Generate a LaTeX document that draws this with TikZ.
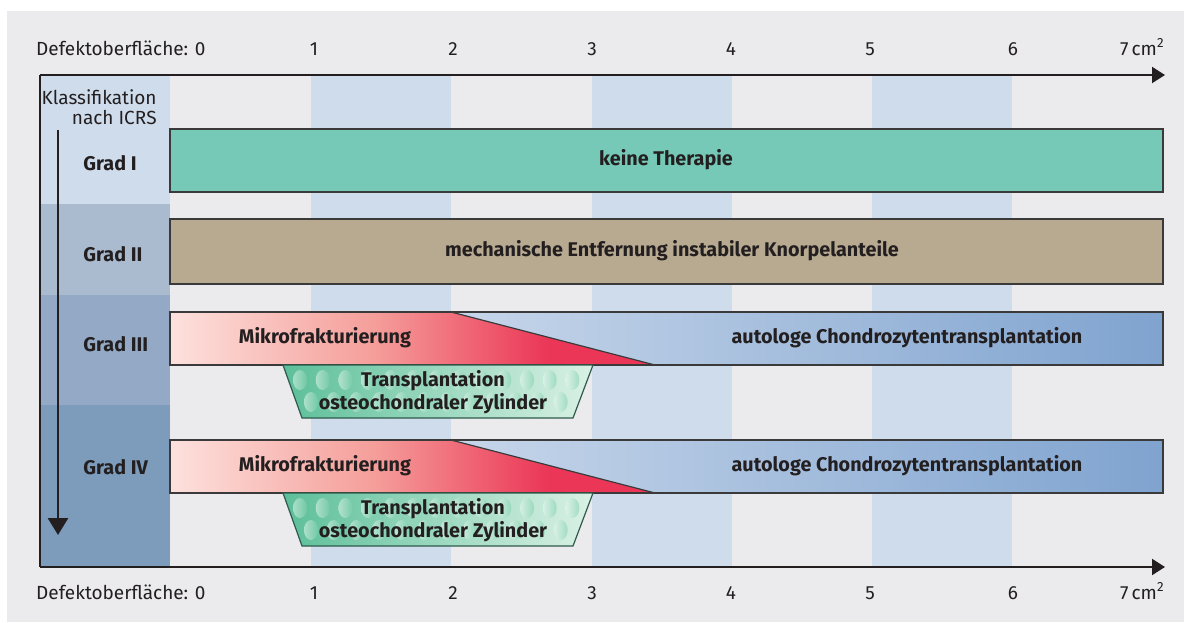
\documentclass[tikz,border=0pt]{standalone}
\usepackage{fontspec}
\setmainfont{Fira Sans}
\usetikzlibrary{arrows.meta}
\definecolor{panel}{HTML}{EBEBED}
\definecolor{stripe}{HTML}{CFDCEC}
\definecolor{ink}{HTML}{231F20}
\definecolor{barline}{HTML}{3A3A3A}
\definecolor{gradA}{HTML}{CFDCEC}
\definecolor{gradB}{HTML}{AABACF}
\definecolor{gradC}{HTML}{93A9C5}
\definecolor{gradD}{HTML}{7D9BBA}
\definecolor{keine}{HTML}{76C9B7}
\definecolor{mecha}{HTML}{B8AA91}
\definecolor{mikroA}{HTML}{FDE1DD}
\definecolor{mikroB}{HTML}{F59E9A}
\definecolor{mikroC}{HTML}{EB3657}
\definecolor{actA}{HTML}{C7D6EA}
\definecolor{actB}{HTML}{7FA3CF}
\definecolor{oscA}{HTML}{5CBF99}
\definecolor{oscB}{HTML}{DAF1E6}
\definecolor{oscline}{HTML}{2F5A4B}
\definecolor{dotA}{HTML}{E8F7EF}
\definecolor{dotB}{HTML}{7ACEA9}
\pgfdeclarehorizontalshading{mikro}{100bp}{color(0bp)=(mikroA); color(25bp)=(mikroA); color(46bp)=(mikroB); color(64bp)=(mikroC); color(75bp)=(mikroC); color(100bp)=(mikroC)}

\begin{document}
\begin{tikzpicture}[x=0.5pt, y=-0.5pt, font=\fontsize{9.5}{10}\selectfont,
  bar/.style={draw=barline, line width=.6pt},
  bartext/.style={font=\fontsize{9.9}{11.5}\selectfont\bfseries, text=ink},
  lbl/.style={text=ink, inner sep=0pt},
  axis/.style={draw=ink, line width=1pt, -{Triangle[length=6.5pt,width=8pt]}},
  dot/.style={left color=dotA, right color=dotB, opacity=.55}]
\fill[white] (0,0) rectangle (1184,622);
\useasboundingbox (0,0) rectangle (1184,622);
\fill[panel] (7,11) rectangle (1184,622);
% Streifen je cm^2
\foreach \x in {311,592,872}
 \fill[stripe] (\x,75) rectangle ++(140,492);
% Spalte ICRS
\foreach \c/\ya/\yb in {gradA/75/204, gradB/204/295, gradC/295/405, gradD/405/567}
 \fill[\c] (40,\ya) rectangle (170,\yb);

% Achsen
\coordinate (topL) at (40,75);
\coordinate (topR) at (1165,75);
\coordinate (botL) at (40,567);
\coordinate (botR) at (1165,567);
\draw[axis] (topL) -- (topR);
\draw[axis] (botL) -- (botR);
\draw[ink, line width=1pt] (topL) -- (botL);
\node[lbl, anchor=base east] (deftop) at (206,55) {Defektoberfläche: 0};
\node[lbl, anchor=base east] (defbot) at (206,599) {Defektoberfläche: 0};
\foreach \n/\x in {1/314,2/453,3/592,4/731,5/870,6/1013} {
 \node[lbl, anchor=base] (top\n) at (\x,55) {\n};
 \node[lbl, anchor=base] (bot\n) at (\x,599) {\n};
}
\node[lbl, anchor=base east] (top7) at (1165,55) {7\,cm\textsuperscript{2}};
\node[lbl, anchor=base east] (bot7) at (1165,599) {7\,cm\textsuperscript{2}};

% Klassifikation
\node[lbl, anchor=east, align=right] (klass) at (157,107) {Klassifikation\\nach ICRS};
\coordinate (gradtop) at (58,130);
\coordinate (gradbot) at (58,535);
\draw[axis, line width=1.4pt, -{Triangle[length=8.5pt,width=10pt]}] (gradtop) -- (gradbot);
\foreach \n/\t/\y in {1/I/163, 2/II/254, 3/III/344, 4/IV/467}
 \node[bartext, anchor=west, inner sep=0pt] (grad\n) at (83,\y) {Grad \t};

% Therapien
\draw[bar, fill=keine] (170,129) rectangle (1163,192);
\node[bartext] (keine) at (666,160) {keine Therapie};
\draw[bar, fill=mecha] (170,219) rectangle (1163,284);
\node[bartext] (mecha) at (672,251) {mechanische Entfernung instabiler Knorpelanteile};

\foreach \g/\yo in {3/0, 4/128} {
\begin{scope}[shift={(0,\yo)}]
 \shade[shading=mikro] (170,312) -- (451,312) -- (655,365) -- (170,365) -- cycle;
 \shade[left color=actA, right color=actB] (451,312) -- (1163,312) -- (1163,365) -- (655,365) -- cycle;
 \draw[bar] (170,312) rectangle (1163,365);
 \draw[bar] (451,312) -- (655,365);
 \shade[left color=oscA, right color=oscB] (283,365) -- (593,365) -- (573,418) -- (302,418) -- cycle;
 \begin{scope}
  \clip (283,365) -- (593,365) -- (573,418) -- (302,418) -- cycle;
  \foreach \i in {0,...,12}
   \shade[dot] ({300+22.7*\i},380) ellipse (7 and 10);
  \foreach \i in {0,...,11}
   \shade[dot] ({311+22.7*\i},402) ellipse (7 and 10);
 \end{scope}
 \draw[draw=oscline, line width=.6pt] (283,365) -- (593,365) -- (573,418) -- (302,418) -- cycle;
 \node[bartext] (mikro\g) at (325,338) {Mikrofrakturierung};
 \node[bartext] (act\g) at (907,338) {autologe Chondrozytentransplantation};
 \node[bartext, align=center] (osc\g) at (433,392) {Transplantation\\osteochondraler Zylinder};
\end{scope}
}
\end{tikzpicture}
\end{document}
